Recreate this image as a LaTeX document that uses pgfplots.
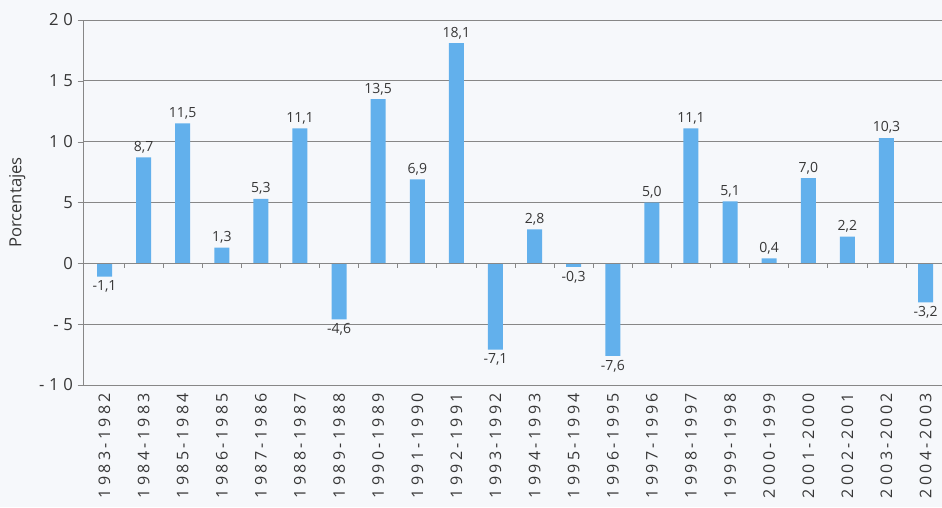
\documentclass[border=0pt]{standalone}
\usepackage{pgfplots}
\pgfplotsset{compat=1.18}
\usepackage{fontspec}
\setmainfont{Open Sans}
\newfontfamily\spaced[LetterSpace=28]{Open Sans}
\newfontfamily\xspaced[LetterSpace=21]{Open Sans}
\definecolor{barblue}{RGB}{98,176,236}
\definecolor{gridgray}{RGB}{135,135,135}
\definecolor{txt}{RGB}{55,55,55}
\definecolor{bgcol}{RGB}{246,248,251}

\pgfplotstableread{
x y
0 -1.1
1 8.7
2 11.5
3 1.3
4 5.3
5 11.1
6 -4.6
7 13.5
8 6.9
9 18.1
10 -7.1
11 2.8
12 -0.3
13 -7.6
14 5.0
15 11.1
16 5.1
17 0.4
18 7.0
19 2.2
20 10.3
21 -3.2
}\datatable

\begin{document}
\begin{tikzpicture}
\useasboundingbox (-62.25pt,-91.5pt) rectangle (644.25pt,288.75pt);
\fill[bgcol] (-62.25pt,-91.5pt) rectangle (644.25pt,288.75pt);
\clip (-62.25pt,-91.5pt) rectangle (644.25pt,288.75pt);
\begin{axis}[
  at={(0,0)}, anchor=south west, scale only axis,
  width=644.25pt, height=273.75pt,
  xmin=-0.55, xmax=21.42,
  ymin=-10, ymax=20,
  ytick={-10,-5,0,5,10,15,20},
  yticklabels={-10,-5,0,5,10,15,20},
  yticklabel style={font=\spaced\fontsize{12.5}{14}\selectfont, text=txt},
  ytick pos=left,
  ytick style={draw=gridgray},
  tick align=outside,
  major tick length=4pt,
  xtick={0,...,21},
  xticklabels={1983-1982,1984-1983,1985-1984,1986-1985,1987-1986,1988-1987,1989-1988,1990-1989,1991-1990,1992-1991,1993-1992,1994-1993,1995-1994,1996-1995,1997-1996,1998-1997,1999-1998,2000-1999,2001-2000,2002-2001,2003-2002,2004-2003},
  xticklabel style={rotate=90, anchor=east, font=\xspaced\fontsize{12}{14}\selectfont, text=txt, inner sep=2pt},
  xtick style={draw=none},
  axis line style={draw=none},
  ymajorgrids,
  grid style={gridgray, line width=0.6pt},
  ylabel={Porcentajes},
  every axis y label/.style={at={([xshift=-39.75pt]axis description cs:0,0.5)}, rotate=90, anchor=south, font=\fontsize{12.5}{14}\selectfont, text=txt},
  ybar, bar width=11.25pt,
  nodes near coords,
  nodes near coords align=vertical,
  every node near coord/.append style={font=\fontsize{10.5}{12}\selectfont, text=txt, inner sep=3pt},
  /pgf/number format/.cd, use comma, fixed, fixed zerofill, precision=1, assume math mode=true,
]
\addplot[fill=barblue, draw=none] table[x=x, y=y] {\datatable};
\draw[gridgray, line width=0.6pt] (rel axis cs:0,0) -- (rel axis cs:0,1);
\draw[gridgray, line width=0.7pt] (axis cs:-0.55,0) -- (axis cs:21.42,0);
\pgfplotsinvokeforeach{0.5,1.5,...,20.5}{\draw[gridgray, line width=0.6pt] (axis cs:#1,0) -- ++(0pt,-3.5pt);}
\end{axis}
\end{tikzpicture}
\end{document}
